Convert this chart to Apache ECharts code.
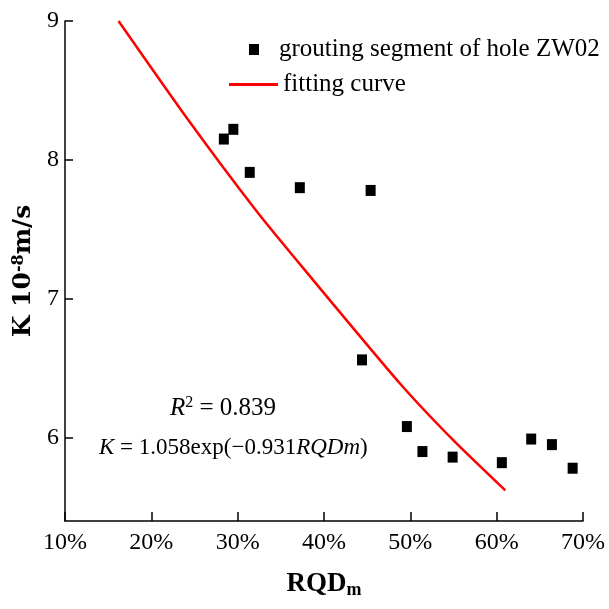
<!DOCTYPE html>
<html>
<head>
<meta charset="utf-8">
<script src="https://cdn.jsdelivr.net/npm/echarts@6/dist/echarts.min.js"></script>
<style>
html,body{margin:0;padding:0;background:#fff;}
#main{width:609px;height:609px;}
</style>
</head>
<body>
<div id="main"></div>
<script>
// measured points, RQDm in %
var rqd = [28.4, 29.5, 31.4, 37.2, 45.4, 44.4, 49.6, 51.4, 54.9, 60.6, 64.0, 66.4, 68.8];
var kVal = [8.15, 8.22, 7.91, 7.80, 7.78, 6.56, 6.08, 5.90, 5.86, 5.82, 5.99, 5.95, 5.78];
// fitting curve
var fitX = [16.2, 23.9, 32.2, 38.0, 48.8, 55.0, 61.0];
var fitY = [9.0, 8.32, 7.63, 7.19, 6.39, 5.98, 5.62];
var yTicks = [6, 7, 8, 9];

var serif = '"Liberation Serif", "DejaVu Serif", serif';
var wideSerif = '"DejaVu Serif", "Liberation Serif", serif';

var chart = echarts.init(document.getElementById('main'));

var scatterData = rqd.map(function (x, i) { return [x, kVal[i]]; });
var fitData = fitX.map(function (x, i) { return [x, fitY[i]]; });

var option = {
    animation: false,
    backgroundColor: '#fff',
    grid: {left: 65, right: 26, top: 21, bottom: 88, outerBoundsMode: 'none'},
    legend: [
        {
            data: ['grouting segment of hole ZW02'],
            left: 249, top: 37, padding: 0,
            icon: 'rect', itemWidth: 10, itemHeight: 11,
            textStyle: {fontFamily: serif, fontSize: 25, color: '#000', padding: [0, 0, 0, 15]}
        },
        {
            data: ['fitting curve'],
            left: 229, top: 72, padding: 0,
            icon: 'rect', itemWidth: 49, itemHeight: 3,
            textStyle: {fontFamily: serif, fontSize: 25, color: '#000'}
        }
    ],
    xAxis: {
        type: 'value', min: 10, max: 70, interval: 10,
        name: '{b|RQD}{s|m}', nameLocation: 'middle', nameGap: 48,
        nameTextStyle: {
            rich: {
                b: {fontFamily: serif, fontSize: 27, fontWeight: 'bold', color: '#000'},
                s: {fontFamily: serif, fontSize: 18, fontWeight: 'bold', color: '#000', verticalAlign: 'bottom', padding: [12, 0, 0, 0]}
            }
        },
        splitLine: {show: false},
        axisLine: {lineStyle: {color: '#000', width: 1.5}},
        axisTick: {inside: true, length: 9, lineStyle: {color: '#000', width: 1.5}},
        axisLabel: {formatter: '{value}%', fontFamily: serif, fontSize: 24, color: '#000', margin: 10}
    },
    yAxis: {
        type: 'value', min: 5.4, max: 9,
        name: '{b|K 10}{p|-8}{b|m/s}', nameLocation: 'middle', nameGap: 25, nameRotate: 90,
        nameTextStyle: {
            rich: {
                b: {fontFamily: wideSerif, fontSize: 25, fontWeight: 'bold', color: '#000'},
                p: {fontFamily: wideSerif, fontSize: 16, fontWeight: 'bold', color: '#000', verticalAlign: 'top', padding: [0, 0, 10, 0]}
            }
        },
        splitLine: {show: false},
        axisLine: {show: true, lineStyle: {color: '#000', width: 1.5}},
        axisTick: {inside: true, length: 8, customValues: yTicks, lineStyle: {color: '#000', width: 1.5}},
        axisLabel: {customValues: yTicks, fontFamily: serif, fontSize: 24, color: '#000', margin: 6}
    },
    series: [
        {
            name: 'grouting segment of hole ZW02',
            type: 'scatter',
            symbol: 'rect',
            symbolSize: [10, 11],
            itemStyle: {color: '#000', opacity: 1},
            data: scatterData
        },
        {
            name: 'fitting curve',
            type: 'line',
            showSymbol: false,
            smooth: 0.2,
            lineStyle: {color: '#ff0000', width: 2.5},
            itemStyle: {color: '#ff0000'},
            data: fitData
        }
    ],
    graphic: [
        {
            type: 'text', left: 170, top: 395,
            style: {
                text: '{i|R}{p|2}{n| = 0.839}',
                rich: {
                    i: {fontFamily: serif, fontSize: 25, fontStyle: 'italic', fill: '#000'},
                    p: {fontFamily: serif, fontSize: 16, fill: '#000', verticalAlign: 'top', padding: [0, 0, 10, 0]},
                    n: {fontFamily: serif, fontSize: 25, fill: '#000'}
                }
            }
        },
        {
            type: 'text', left: 99, top: 436,
            style: {
                text: '{i|K}{n| = 1.058exp(\u22120.931}{i|RQDm}{n|)}',
                rich: {
                    i: {fontFamily: serif, fontSize: 23, fontStyle: 'italic', fill: '#000'},
                    n: {fontFamily: serif, fontSize: 23, fill: '#000'}
                }
            }
        }
    ]
};
chart.setOption(option);
</script>
</body>
</html>
